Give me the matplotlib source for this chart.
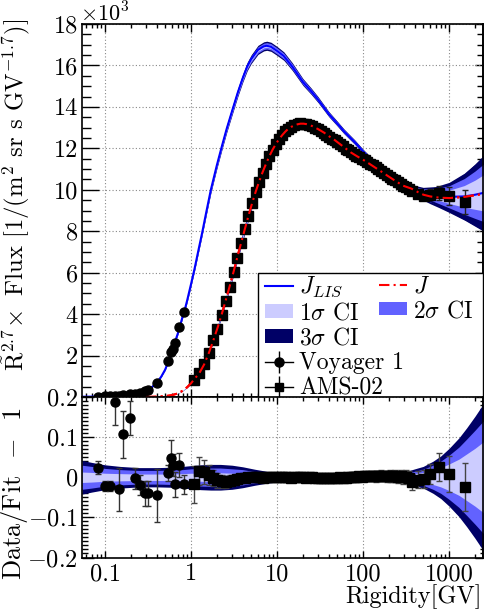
import numpy as np
import matplotlib
matplotlib.use('Agg')
import matplotlib.pyplot as plt
from matplotlib.lines import Line2D
from matplotlib.patches import Patch, Rectangle
from matplotlib.ticker import FixedLocator, FixedFormatter, MultipleLocator, LogLocator, NullFormatter

plt.rcParams['font.family'] = 'cmr10'
plt.rcParams['mathtext.fontset'] = 'cm'
plt.rcParams['axes.unicode_minus'] = False

# ---------------- data (flux in units of 10^3) ----------------
lis_R = [0.054, 0.07, 0.085, 0.1, 0.12, 0.15, 0.18, 0.22, 0.26, 0.3, 0.35, 0.4, 0.45, 0.5,
         0.55, 0.6, 0.65, 0.7, 0.75, 0.8, 0.85, 0.9, 1.0, 1.1, 1.2, 1.35, 1.5, 1.7, 2.0,
         2.3, 2.6, 3.0, 3.5, 4.0, 4.5, 5.0, 6.0, 7.0, 7.6, 8.5, 10, 12, 15, 20, 25, 30,
         40, 50, 60, 80, 100, 130, 170, 230, 300, 400, 500, 700, 1000, 1500, 2000, 2500]
lis_val = [0.012, 0.018, 0.022, 0.030, 0.042, 0.063, 0.090, 0.140, 0.210, 0.300, 0.470,
           0.690, 0.980, 1.320, 1.760, 2.170, 2.650, 3.050, 3.480, 3.900, 4.250, 4.650,
           5.450, 6.200, 6.950, 7.950, 8.900, 10.00, 11.20, 12.15, 12.95, 13.80, 14.70,
           15.40, 15.95, 16.30, 16.75, 16.92, 16.95, 16.90, 16.70, 16.45, 15.95, 15.20,
           14.75, 14.35, 13.65, 13.20, 12.82, 12.30, 11.85, 11.38, 11.00, 10.55, 10.25,
           10.00, 9.85, 9.72, 9.66, 9.68, 9.76, 9.85]

J_R = [0.3, 0.4, 0.5, 0.6, 0.7, 0.8, 0.9, 1.0, 1.08, 1.24, 1.42, 1.61, 1.82, 2.03, 2.27,
       2.53, 2.82, 3.13, 3.46, 3.83, 4.22, 4.65, 5.12, 5.63, 6.18, 6.78, 7.42, 8.12, 8.86,
       9.67, 10.5, 11.5, 12.5, 13.5, 14.7, 15.9, 17.3, 18.7, 20.3, 21.9, 23.7, 25.7, 27.7,
       29.9, 32.3, 34.8, 37.5, 40.4, 43.5, 46.8, 50.3, 54.1, 58.2, 62.5, 67.2, 72.3, 77.6,
       86.5, 100, 116, 135, 160, 192, 233, 291, 368, 438, 505, 601, 766, 1009, 1535, 2500]
J_val = [0.0, 0.015, 0.04, 0.09, 0.17, 0.30, 0.47, 0.66, 0.84, 1.13, 1.57, 2.12, 2.74, 3.33,
         3.98, 4.66, 5.36, 6.06, 6.76, 7.45, 8.10, 8.74, 9.34, 9.89, 10.39, 10.84, 11.24,
         11.61, 11.93, 12.20, 12.43, 12.64, 12.81, 12.94, 13.04, 13.11, 13.16, 13.19, 13.19,
         13.17, 13.13, 13.07, 13.00, 12.93, 12.85, 12.77, 12.68, 12.58, 12.49, 12.40, 12.30,
         12.20, 12.10, 12.00, 11.90, 11.80, 11.72, 11.60, 11.45, 11.28, 11.10, 10.90, 10.68,
         10.45, 10.20, 10.05, 9.88, 9.76, 9.68, 9.62, 9.60, 9.66, 9.80]

band_R = [0.054, 0.07, 0.1, 0.15, 0.25, 0.4, 0.6, 0.8, 1.0, 1.3, 1.7, 2.2, 3.0, 4.0, 5.5,
          7.5, 10, 14, 20, 30, 45, 70, 100, 150, 220, 300, 400, 500, 650, 800, 1000, 1300,
          1600, 2000, 2500]
res_b3 = [0.042, 0.037, 0.031, 0.027, 0.024, 0.024, 0.025, 0.027, 0.029, 0.031, 0.032,
          0.032, 0.030, 0.026, 0.020, 0.015, 0.012, 0.010, 0.009, 0.008, 0.008, 0.008,
          0.008, 0.009, 0.010, 0.013, 0.021, 0.027, 0.040, 0.053, 0.072, 0.098, 0.123,
          0.152, 0.183]
res_b2 = [0.030, 0.027, 0.022, 0.019, 0.017, 0.017, 0.018, 0.019, 0.021, 0.022, 0.023,
          0.023, 0.021, 0.019, 0.014, 0.011, 0.009, 0.007, 0.006, 0.006, 0.006, 0.006,
          0.006, 0.007, 0.007, 0.009, 0.015, 0.020, 0.030, 0.040, 0.055, 0.075, 0.095,
          0.117, 0.140]
res_b1 = [0.013, 0.012, 0.010, 0.009, 0.008, 0.008, 0.008, 0.009, 0.010, 0.010, 0.011,
          0.011, 0.010, 0.009, 0.007, 0.005, 0.004, 0.0035, 0.003, 0.003, 0.003, 0.003,
          0.003, 0.0035, 0.004, 0.005, 0.009, 0.012, 0.018, 0.024, 0.033, 0.045, 0.058,
          0.072, 0.088]
lis_b3 = [0.030, 0.027, 0.024, 0.021, 0.019, 0.018, 0.018, 0.018, 0.018, 0.017, 0.016,
          0.015, 0.014, 0.013, 0.013, 0.013, 0.013, 0.012, 0.011, 0.010, 0.009, 0.009,
          0.009, 0.010, 0.011, 0.013, 0.021, 0.027, 0.040, 0.053, 0.072, 0.098, 0.123,
          0.152, 0.183]
lis_b2 = [0.021, 0.019, 0.017, 0.015, 0.013, 0.013, 0.013, 0.013, 0.013, 0.012, 0.011,
          0.011, 0.010, 0.009, 0.009, 0.009, 0.009, 0.0085, 0.008, 0.007, 0.0065, 0.0065,
          0.0065, 0.007, 0.008, 0.009, 0.015, 0.020, 0.030, 0.040, 0.055, 0.075, 0.095,
          0.117, 0.140]
lis_b1 = [0.010, 0.009, 0.008, 0.007, 0.006, 0.006, 0.006, 0.006, 0.006, 0.0055, 0.005,
          0.005, 0.0045, 0.0042, 0.0042, 0.0042, 0.0042, 0.004, 0.0038, 0.0034, 0.003,
          0.003, 0.003, 0.0034, 0.004, 0.005, 0.009, 0.012, 0.018, 0.024, 0.033, 0.045,
          0.058, 0.072, 0.088]

voy_R = [0.0836, 0.100, 0.114, 0.131, 0.147, 0.163, 0.195, 0.223, 0.255, 0.292, 0.319,
         0.399, 0.545, 0.585, 0.610, 0.650, 0.730, 0.830]
voy_flux = [0.020, 0.029, 0.036, 0.055, 0.058, 0.085, 0.128, 0.150, 0.205, 0.280, 0.360,
            0.660, 1.75, 2.15, 2.32, 2.60, 3.40, 4.08]
voy_res = [0.024, -0.022, -0.022, 0.187, -0.030, 0.107, 0.148, -0.003, -0.020, -0.040,
           -0.040, -0.045, 0.010, 0.049, 0.030, -0.018, 0.030, -0.018]
voy_res_err = [0.017, 0.012, 0.012, 0.058, 0.054, 0.058, 0.042, 0.027, 0.025, 0.031, 0.031,
               0.066, 0.020, 0.044, 0.027, 0.031, 0.030, 0.023]

ams_R = [1.08, 1.24, 1.42, 1.61, 1.82, 2.03, 2.27, 2.53, 2.82, 3.13, 3.46, 3.83, 4.22, 4.65,
         5.12, 5.63, 6.18, 6.78, 7.42, 8.12, 8.86, 9.67, 10.5, 11.5, 12.5, 13.5, 14.7, 15.9,
         17.3, 18.7, 20.3, 21.9, 23.7, 25.7, 27.7, 29.9, 32.3, 34.8, 37.5, 40.4, 43.5, 46.8,
         50.3, 54.1, 58.2, 62.5, 67.2, 72.3, 77.6, 83.5, 90, 97, 104, 112, 121, 130, 140,
         151, 163, 175, 189, 203, 219, 236, 254, 274, 295, 318, 342,
         368, 438, 505, 601, 766, 1009, 1535]
ams_flux = [0.825, 1.148, 1.589, 2.133, 2.735, 3.303, 3.940, 4.609, 5.312, 6.018, 6.726,
            7.428, 8.092, 8.740, 9.349, 9.900, 10.39, 10.83, 11.24, 11.62, 11.94, 12.20,
            12.43, 12.65, 12.82, 12.94, 13.03, 13.11, 13.16, 13.20, 13.19, 13.16, 13.13,
            13.07, 12.99, 12.92, 12.82, 12.74, 12.65, 12.57, 12.46, 12.38, 12.29, 12.20,
            12.09, 11.99, 11.90, 11.81, 11.72, 11.65, 11.57, 11.50, 11.43, 11.35, 11.26,
            11.18, 11.08, 11.00, 10.90, 10.82, 10.72, 10.64, 10.54, 10.45, 10.37, 10.27,
            10.19, 10.13, 10.06,
            9.93, 9.82, 9.71, 9.76, 9.86, 9.68, 9.42]
ams_res = [-0.018, 0.016, 0.012, 0.006, -0.002, -0.008, -0.010, -0.011, -0.009, -0.007,
           -0.005, -0.003, -0.001, 0.000, 0.001, 0.001, 0.000, -0.001, 0.000, 0.001, 0.001,
           0.000, 0.000, 0.001, 0.001, 0.000, -0.001, 0.000, 0.000, 0.001, 0.000, -0.001,
           0.000, 0.000, -0.001, -0.001, -0.002, -0.002, -0.002, -0.001, -0.002, -0.002,
           -0.001, 0.000, -0.001, -0.001, 0.000, 0.001, 0.000, 0.001, 0.002, 0.001, 0.002,
           0.003, 0.002, 0.003, 0.002, 0.003, 0.004, 0.003, 0.002, 0.003, 0.002, 0.002,
           0.001, 0.002, 0.000, 0.001, -0.001,
           -0.012, -0.006, -0.005, 0.008, 0.025, 0.008, -0.025]
ams_res_err = [0.045, 0.035, 0.030, 0.025, 0.020, 0.018, 0.016, 0.015, 0.014, 0.013, 0.012,
               0.012, 0.011, 0.011, 0.010, 0.010, 0.010, 0.009, 0.009, 0.009, 0.009, 0.009,
               0.009, 0.009, 0.009, 0.009, 0.009, 0.009, 0.009, 0.009, 0.009, 0.009, 0.009,
               0.009, 0.009, 0.009, 0.009, 0.009, 0.009, 0.009, 0.010, 0.010, 0.010, 0.010,
               0.010, 0.010, 0.011, 0.011, 0.011, 0.011, 0.011, 0.011, 0.012, 0.012, 0.012,
               0.012, 0.013, 0.013, 0.013, 0.013, 0.014, 0.014, 0.014, 0.015, 0.015, 0.015,
               0.016, 0.016, 0.017,
               0.020, 0.021, 0.022, 0.026, 0.035, 0.045, 0.060]

x_ticks = [0.1, 1, 10, 100, 1000]
x_ticklabels = ['0.1', '1', '10', '100', '1000']
y1_ticks = [0, 2, 4, 6, 8, 10, 12, 14, 16, 18]
y1_ticklabels = ['', '2', '4', '6', '8', '10', '12', '14', '16', '18']
y2_ticks = [-0.2, -0.1, 0, 0.1, 0.2]
y2_ticklabels = [r'$-0.2$', r'$-0.1$', '0', '0.1', '0.2']

# ---------------- styling ----------------
C1 = '#ccccff'
C2 = '#6262ff'
C3 = '#000066'
TICK_FS = 17.5
LAB_FS = 17.8
LEG_FS = 17

W, H = 484, 612
fig = plt.figure(figsize=(W / 100, H / 100), dpi=100)


def fx(px):
    return px / W


def fy(py):
    return 1 - py / H


ax1 = fig.add_axes([fx(82), fy(397), fx(483) - fx(82), fy(24) - fy(397)])
ax2 = fig.add_axes([fx(82), fy(557.5), fx(483) - fx(82), fy(397) - fy(557.5)], sharex=ax1)

bR = np.array(band_R)
lbR = np.log10(bR)

# ---- top panel ----
lR = np.array(lis_R)
lv = np.array(lis_val)
jR = np.array(J_R)
jv = np.array(J_val)
for arr_b, col in ((res_b3, C3), (res_b2, C2), (res_b1, C1)):
    b = np.interp(np.log10(jR), lbR, arr_b)
    ax1.fill_between(jR, jv * (1 - b), jv * (1 + b), color=col, lw=0, zorder=1)
for arr_b, col in ((lis_b3, C3), (lis_b2, C2), (lis_b1, C1)):
    b = np.interp(np.log10(lR), lbR, arr_b)
    ax1.fill_between(lR, lv * (1 - b), lv * (1 + b), color=col, lw=0, zorder=1.5)
ax1.plot(lR, lv, color='#0000ff', lw=1.5, zorder=2)
ax1.plot(jR, jv, color='#ff0000', lw=1.5, dashes=(5, 2, 1, 2), zorder=3)

ams_err_abs = np.array(ams_flux) * np.array(ams_res_err)
voy_err_abs = np.array(voy_flux) * np.array(voy_res_err)
ax1.errorbar(ams_R, ams_flux, yerr=ams_err_abs, fmt='s', ms=7, color='k', ecolor='#222222',
             elinewidth=1, capsize=2, zorder=4)
ax1.plot(jR, jv, color='#ff0000', lw=1.5, dashes=(5, 2, 1, 2), zorder=4.5)
ax1.errorbar(voy_R, voy_flux, yerr=voy_err_abs, fmt='o', ms=6.5, color='k', ecolor='#222222',
             elinewidth=1, capsize=2, zorder=4)

# ---- bottom panel ----
for arr_b, col, z in ((res_b3, C3, 1), (res_b2, C2, 1.1), (res_b1, C1, 1.2)):
    b = np.array(arr_b)
    ax2.fill_between(bR, -b, b, color=col, lw=0, zorder=z)
ax2.errorbar(ams_R, ams_res, yerr=ams_res_err, fmt='s', ms=6.5, color='k', ecolor='#444444',
             elinewidth=1, capsize=2, zorder=4)
ax2.errorbar(voy_R, voy_res, yerr=voy_res_err, fmt='o', ms=6.5, color='k', ecolor='#333333',
             elinewidth=1, capsize=2, zorder=4)

# ---- axes ----
ax1.set_xscale('log')
ax1.set_xlim(0.054, 2480)
ax1.set_ylim(0, 18)
ax2.set_ylim(-0.2, 0.2)

for ax in (ax1, ax2):
    ax.set_axisbelow(True)
    ax.grid(True, which='major', color='#888888', ls=(0, (1, 2)), lw=0.8)
    for s in ax.spines.values():
        s.set_linewidth(1.2)

ax2.xaxis.set_major_locator(FixedLocator(x_ticks))
ax2.xaxis.set_major_formatter(FixedFormatter(x_ticklabels))
ax2.xaxis.set_minor_locator(LogLocator(base=10, subs=np.arange(2, 10), numticks=20))
ax2.xaxis.set_minor_formatter(NullFormatter())

ax1.yaxis.set_major_locator(FixedLocator(y1_ticks))
ax1.yaxis.set_major_formatter(FixedFormatter(y1_ticklabels))
ax1.yaxis.set_minor_locator(MultipleLocator(0.5))
ax2.yaxis.set_major_locator(FixedLocator(y2_ticks))
ax2.yaxis.set_major_formatter(FixedFormatter(y2_ticklabels))
ax2.yaxis.set_minor_locator(MultipleLocator(0.01))

ax1.tick_params(axis='x', which='both', direction='in', top=True, bottom=True, labelbottom=False,
                width=1)
ax1.tick_params(axis='x', which='major', length=5.8)
ax1.tick_params(axis='x', which='minor', length=2.9)
ax1.tick_params(axis='y', which='both', direction='in', left=True, right=False, width=1,
                labelsize=TICK_FS, pad=3)
ax1.tick_params(axis='y', which='major', length=12.2)
ax1.tick_params(axis='y', which='minor', length=6.5)

ax2.tick_params(axis='x', which='both', direction='in', top=True, bottom=True, width=1,
                labelsize=TICK_FS, pad=4)
ax2.tick_params(axis='x', which='major', length=5)
ax2.tick_params(axis='x', which='minor', length=2.9)
ax2.tick_params(axis='y', which='both', direction='in', left=True, right=False, width=1,
                labelsize=TICK_FS, pad=3)
ax2.tick_params(axis='y', which='major', length=8.6)
ax2.tick_params(axis='y', which='minor', length=4.3)

for ax, mloc, mnloc, ml, mnl in ((ax1, y1_ticks, 0.5, 5.5, 4.0), (ax2, y2_ticks, 0.01, 5.5, 2.5)):
    sec = ax.secondary_yaxis('right')
    sec.yaxis.set_major_locator(FixedLocator(mloc))
    sec.yaxis.set_minor_locator(MultipleLocator(mnloc))
    sec.tick_params(which='both', direction='in', labelright=False, width=1)
    sec.tick_params(which='major', length=ml)
    sec.tick_params(which='minor', length=mnl)
    sec.spines['right'].set_linewidth(1.2)

# ---- labels ----
fig.text(fx(16), fy(195),
         r'$\tilde{\mathrm{R}}^{2.7}\!\times$ Flux [1/(m$^{2}$ sr s GV$^{-1.7}$)]',
         rotation=90, ha='center', va='center', fontsize=LAB_FS)
fig.text(fx(15), fy(494), r'Data/Fit $\,-\,$ 1', rotation=90, ha='center', va='center',
         fontsize=19)
fig.text(fx(482), fy(597), 'Rigidity[GV]', ha='right', va='center', fontsize=TICK_FS)
fig.text(fx(80), fy(21), r'$\times$10$^{3}$', ha='left', va='baseline', fontsize=16)

# ---- legend ----
frame = Rectangle((fx(258), fy(397)), fx(483) - fx(258), fy(273) - fy(397),
                  transform=fig.transFigure, facecolor='white', edgecolor='black', lw=1,
                  zorder=4.8, clip_on=False)
ax1.add_artist(frame)

h_lis = Line2D([], [], color='#0000ff', lw=1.5)
h_J = Line2D([], [], color='#ff0000', lw=1.5, dashes=(5, 2, 1, 2))
h_1 = Patch(facecolor=C1, edgecolor='none')
h_2 = Patch(facecolor=C2, edgecolor='none')
h_3 = Patch(facecolor=C3, edgecolor='none')
vbar = Line2D([], [], color='k', ls='none', marker='|', ms=16, mew=1)
h_voy = (Line2D([], [], color='k', lw=1, marker='o', ms=6.5), vbar)
h_ams = (Line2D([], [], color='k', lw=1, marker='s', ms=6), vbar)

leg_kw = dict(loc='upper left', bbox_transform=fig.transFigure, frameon=False,
              fontsize=LEG_FS, handlelength=1.2, handletextpad=0.25, labelspacing=0.12,
              borderpad=0, borderaxespad=0, handleheight=0.5)
leg1 = ax1.legend([h_lis, h_1, h_3, h_voy, h_ams],
                  [r'$J_{LIS}$', r'1$\sigma$ CI', r'3$\sigma$ CI', 'Voyager 1', 'AMS-02'],
                  bbox_to_anchor=(fx(265), fy(275)), **leg_kw)
leg1.set_zorder(5)
ax1.add_artist(leg1)
leg2 = ax1.legend([h_J, h_2], [r'$J$', r'2$\sigma$ CI'],
                  bbox_to_anchor=(fx(379), fy(275)), **leg_kw)
leg2.set_zorder(5)

fig.savefig('out.png', dpi=100)
